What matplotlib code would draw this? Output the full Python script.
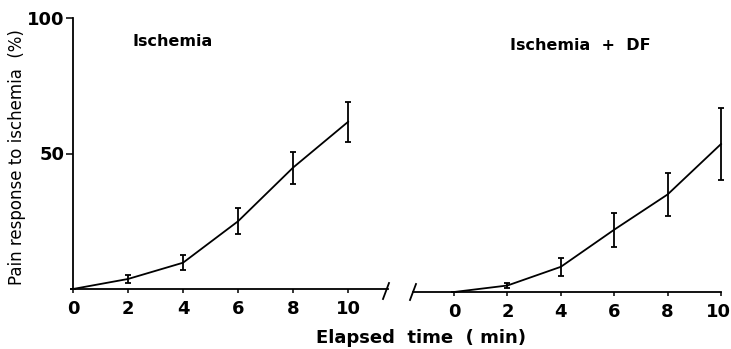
import matplotlib
matplotlib.use("Agg")
import matplotlib.pyplot as plt
import matplotlib.transforms as mtransforms

plt.rcParams['font.family'] = ['DejaVu Sans']

time = [0, 2, 4, 6, 8, 10]
ischemia = [0, 3.7, 9.7, 25.0, 44.8, 61.7]
ischemia_err = [0, 1.5, 2.8, 4.8, 5.9, 7.4]
ischemia_df = [0, 2.4, 9.3, 23.0, 36.0, 54.6]
ischemia_df_err = [0, 1.0, 3.4, 6.3, 7.8, 13.3]
xticks = [0, 2, 4, 6, 8, 10]
yticks = [50, 100]

W, H = 731, 349
fig = plt.figure(figsize=(W / 100, H / 100), dpi=100)

def frac(x0, x1, ybot, ytop):
    return [x0 / W, 1 - ybot / H, (x1 - x0) / W, (ybot - ytop) / H]

ax1 = fig.add_axes(frac(73, 388, 289, 18))
ax2 = fig.add_axes(frac(413, 721, 292, 21))

lw = 1.3
for ax, y, e in [(ax1, ischemia, ischemia_err), (ax2, ischemia_df, ischemia_df_err)]:
    ax.errorbar(time, y, yerr=e, color='black', lw=lw, elinewidth=lw,
                capsize=2.2, capthick=lw, clip_on=False)
    ax.set_ylim(0, 100)
    for s in ['top', 'right']:
        ax.spines[s].set_visible(False)
    ax.spines['bottom'].set_linewidth(lw)
    ax.spines['left'].set_linewidth(lw)
    ax.set_xticks(xticks)
    ax.set_xticklabels([str(t) for t in xticks])
    ax.tick_params(axis='x', direction='out', length=3, width=1.1,
                   labelsize=13, pad=5)

ax1.set_xlim(0, 11.45)
ax2.set_xlim(-1.54, 10)

ax1.set_yticks(yticks)
ax1.set_yticklabels([str(t) for t in yticks])
ax1.tick_params(axis='y', direction='out', length=5, width=1.1, labelsize=13, pad=1)
ax2.spines['left'].set_visible(False)
ax2.set_yticks([])

for lab in ax1.get_xticklabels() + ax2.get_xticklabels() + ax1.get_yticklabels():
    lab.set_fontweight('bold')

# keep the last right-hand tick label inside the canvas
last = ax2.get_xticklabels()[-1]
last.set_transform(last.get_transform() +
                   mtransforms.ScaledTranslation(-3 / 100, 0, fig.dpi_scale_trans))

fig.text(17 / W, 1 - 157 / H, 'Pain response to ischemia  (%)', fontsize=12,
         rotation=90, va='center', ha='center')

# break marks
def slash(xc, yc):
    fig.add_artist(plt.Line2D([(xc - 3) / W, (xc + 3) / W],
                              [1 - (yc + 8) / H, 1 - (yc - 8) / H],
                              color='black', lw=lw))
slash(386, 291)
slash(413, 292)

fig.text(133 / W, 1 - 42 / H, 'Ischemia', fontsize=11.5, fontweight='bold', va='center', ha='left')
fig.text(510 / W, 1 - 45 / H, 'Ischemia  +  DF', fontsize=11.5, fontweight='bold', va='center', ha='left')
fig.text(421 / W, 1 - 338 / H, 'Elapsed  time  ( min)', fontsize=13, fontweight='bold',
         va='center', ha='center')

fig.savefig('out.png', dpi=100)
